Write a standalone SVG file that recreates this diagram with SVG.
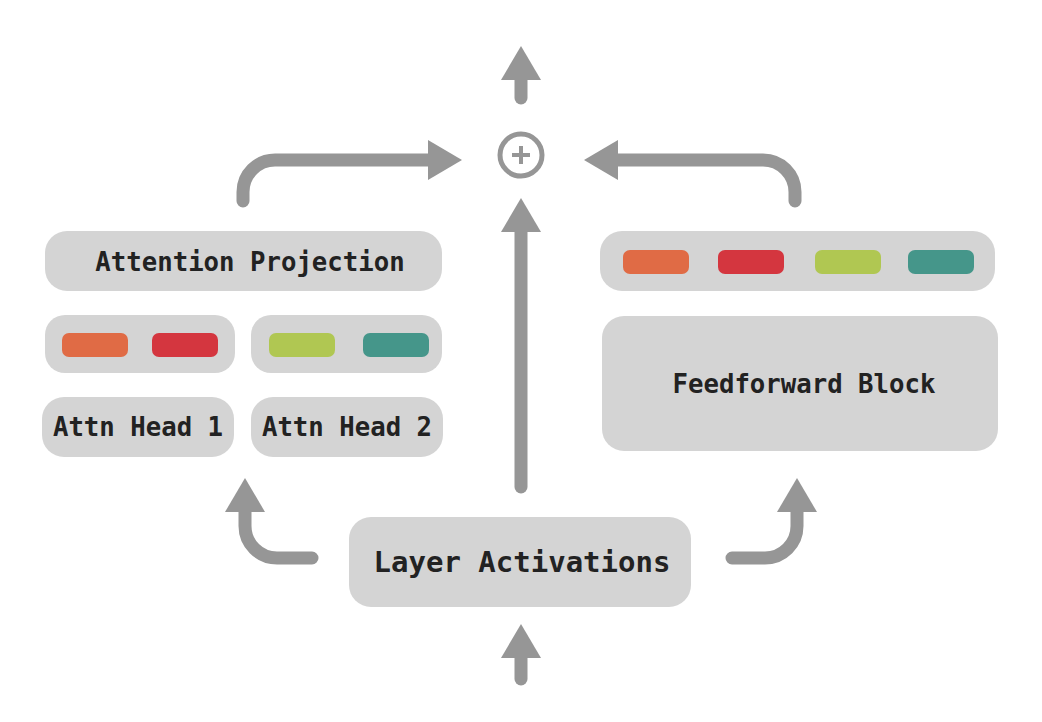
<svg xmlns="http://www.w3.org/2000/svg" width="1042" height="722" viewBox="0 0 1042 722">
<style>
.box{fill:#d4d4d4}
.lbl{font-family:"DejaVu Sans Mono","Liberation Mono",monospace;font-weight:bold;fill:#222;text-anchor:middle;dominant-baseline:central}
.conn{fill:none;stroke:#969696;stroke-width:13;stroke-linecap:round;stroke-linejoin:round}
.o{fill:#e06b45}.r{fill:#d4363f}.g{fill:#b0c752}.t{fill:#45968a}
</style>
<defs>
<marker id="ah" viewBox="0 0 34 40" refX="0" refY="20" markerWidth="34" markerHeight="40" markerUnits="userSpaceOnUse" orient="auto">
<path d="M0,0 L34,20 L0,40 Z" fill="#969696"/>
</marker>
</defs>
<rect width="1042" height="722" fill="#fff"/>
<g id="connectors">
<path class="conn" d="M521,98 L521,80" marker-end="url(#ah)"/>
<path class="conn" d="M243,201 L243,192 A32,32 0 0 1 275,160 L428,160" marker-end="url(#ah)"/>
<path class="conn" d="M795,201 L795,192 A32,32 0 0 0 763,160 L618,160" marker-end="url(#ah)"/>
<path class="conn" d="M521,487 L521,232" marker-end="url(#ah)"/>
<path class="conn" d="M521,679 L521,658" marker-end="url(#ah)"/>
<path class="conn" d="M312,558 L277,558 A32,32 0 0 1 245,526 L245,512" marker-end="url(#ah)"/>
<path class="conn" d="M732,558 L765,558 A32,32 0 0 0 797,526 L797,512" marker-end="url(#ah)"/>
</g>
<g id="sum">
<circle cx="521" cy="155" r="21" fill="none" stroke="#969696" stroke-width="5"/>
<path d="M512,155 H530 M521,146 V164" stroke="#969696" stroke-width="4"/>
</g>
<g id="attn-proj">
<rect class="box" x="45" y="231" width="397" height="60" rx="22"/>
<text class="lbl" x="250" y="262" font-size="25.7">Attention Projection</text>
</g>
<g id="head1-weights">
<rect class="box" x="45" y="315" width="190" height="58" rx="20"/>
<rect class="o" x="62" y="333" width="66" height="24" rx="7"/>
<rect class="r" x="152" y="333" width="66" height="24" rx="7"/>
</g>
<g id="head2-weights">
<rect class="box" x="251" y="315" width="191" height="58" rx="20"/>
<rect class="g" x="269" y="333" width="66" height="24" rx="7"/>
<rect class="t" x="363" y="333" width="66" height="24" rx="7"/>
</g>
<g id="head1">
<rect class="box" x="42" y="397" width="192" height="60" rx="22"/>
<text class="lbl" x="138" y="427" font-size="25.7">Attn Head 1</text>
</g>
<g id="head2">
<rect class="box" x="251" y="397" width="192" height="60" rx="22"/>
<text class="lbl" x="347" y="427" font-size="25.7">Attn Head 2</text>
</g>
<g id="ff-weights">
<rect class="box" x="600" y="231" width="395" height="60" rx="22"/>
<rect class="o" x="623" y="250" width="66" height="24" rx="7"/>
<rect class="r" x="718" y="250" width="66" height="24" rx="7"/>
<rect class="g" x="815" y="250" width="66" height="24" rx="7"/>
<rect class="t" x="908" y="250" width="66" height="24" rx="7"/>
</g>
<g id="ff">
<rect class="box" x="602" y="316" width="396" height="135" rx="22"/>
<text class="lbl" x="804" y="384" font-size="25.7">Feedforward Block</text>
</g>
<g id="layer-act">
<rect class="box" x="349" y="517" width="342" height="90" rx="22"/>
<text class="lbl" x="522" y="562" font-size="29">Layer Activations</text>
</g>
</svg>
